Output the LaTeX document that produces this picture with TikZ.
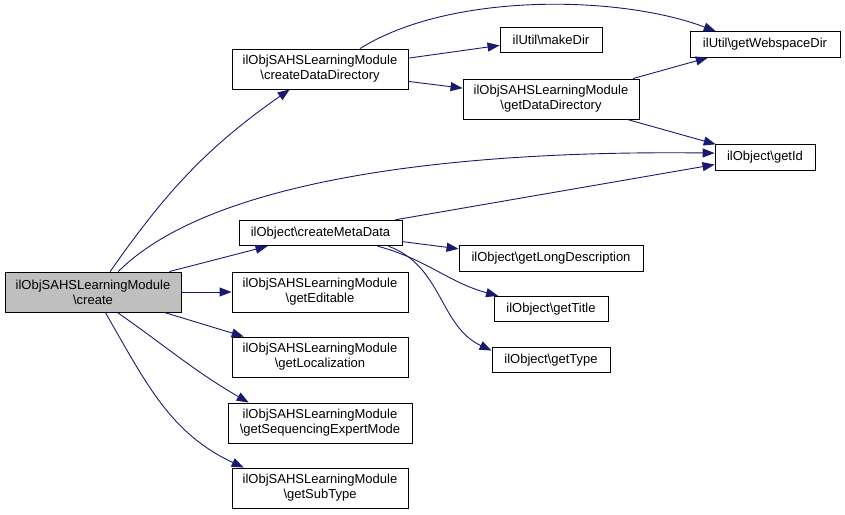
\documentclass[tikz,border=0pt]{standalone}
\usepackage{fontspec}
\setmainfont{Liberation Sans}
\usetikzlibrary{arrows.meta, positioning}
\definecolor{callblue}{RGB}{25, 25, 112}
\definecolor{rootgray}{RGB}{191, 191, 191}

\begin{document}
\begin{tikzpicture}[
  x=1pt, y=-1pt,
  fnbox/.style={draw=black, line width=0.9pt, fill=white, inner sep=0pt, align=center, minimum width=176pt, minimum height=40pt, font=\fontsize{13}{15}\selectfont},
  leafbox/.style={fnbox, minimum height=25.5pt},
  rootbox/.style={fnbox, fill=rootgray},
  call/.style={draw=callblue, line width=0.9pt, -{Triangle[length=12pt, width=9pt, fill=callblue]}}
]
  \useasboundingbox (0,0) rectangle (845,514);

  \node[rootbox] (create) at (93,292) {ilObjSAHSLearningModule\\\textbackslash create};
  \node[fnbox] (createDataDir) at (320,69) {ilObjSAHSLearningModule\\\textbackslash createDataDirectory};
  \node[leafbox, minimum width=163pt] (createMetaData) at (320.5,233) {ilObject\textbackslash createMetaData};
  \node[fnbox] (getEditable) at (320,292) {ilObjSAHSLearningModule\\\textbackslash getEditable};
  \node[fnbox] (getLocalization) at (320,357) {ilObjSAHSLearningModule\\\textbackslash getLocalization};
  \node[fnbox, minimum width=184pt] (getSeqExpert) at (320,423) {ilObjSAHSLearningModule\\\textbackslash getSequencingExpertMode};
  \node[fnbox] (getSubType) at (320,488) {ilObjSAHSLearningModule\\\textbackslash getSubType};
  \node[leafbox, minimum width=102pt] (makeDir) at (551,40) {ilUtil\textbackslash makeDir};
  \node[leafbox, minimum width=150pt] (getWebspaceDir) at (765,44.5) {ilUtil\textbackslash getWebspaceDir};
  \node[fnbox] (getDataDir) at (551,99) {ilObjSAHSLearningModule\\\textbackslash getDataDirectory};
  \node[leafbox, minimum width=100pt] (getId) at (765,157.5) {ilObject\textbackslash getId};
  \node[leafbox, minimum width=184pt] (getLongDesc) at (551,258.5) {ilObject\textbackslash getLongDescription};
  \node[leafbox, minimum width=114pt] (getTitle) at (551,309) {ilObject\textbackslash getTitle};
  \node[leafbox, minimum width=118pt] (getType) at (551,360) {ilObject\textbackslash getType};

  \draw[call] (create.50) to[out=55, in=215] (createDataDir.214);
  \draw[call] (create.39) .. controls (210,180) and (450,150) .. (getId.175);
  \draw[call] (create.15) -- (createMetaData.194);
  \draw[call] (create.east) -- (getEditable.west);
  \draw[call] (create.-16) -- (getLocalization.165);
  \draw[call] (create.-40) to[out=-35, in=150] (getSeqExpert.164);
  \draw[call] (create.-59) to[out=-60, in=155] (getSubType.165);
  \draw[call] (createDataDir.27) .. controls (450,-8) and (620,-5) .. (getWebspaceDir.165);
  \draw[call] (createDataDir.7) -- (makeDir.186);
  \draw[call] (createDataDir.-8) -- (getDataDir.173);
  \draw[call] (getDataDir.14) -- (getWebspaceDir.193);
  \draw[call] (getDataDir.-15) -- (getId.165);
  \draw[call] (createMetaData.10) -- (getId.188);
  \draw[call] (createMetaData.-6) -- (getLongDesc.174);
  \draw[call] (createMetaData.-13) to[out=-15, in=165] (getTitle.166);
  \draw[call] (createMetaData.-11) to[out=-20, in=155] (getType.171);
\end{tikzpicture}
\end{document}
